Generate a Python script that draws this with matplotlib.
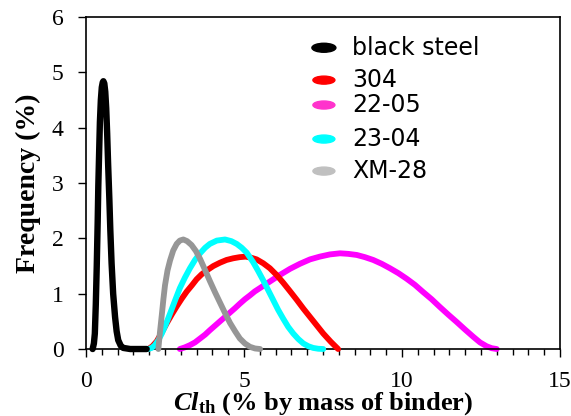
"""
Distribution of chloride threshold values for the different reinforcing steels.
"""
import matplotlib
matplotlib.use('Agg')
import matplotlib.pyplot as plt
from matplotlib.patches import Ellipse
from matplotlib.ticker import MultipleLocator

# values
black_x = [0.21, 0.25, 0.28, 0.31, 0.34, 0.37, 0.39, 0.42, 0.44, 0.47, 0.50, 0.53,
           0.55, 0.58, 0.61, 0.64, 0.67, 0.70, 0.74, 0.77, 0.81, 0.86, 0.92, 0.97,
           1.02, 1.10, 1.18, 1.40, 1.92]
black_y = [0.0, 0.10, 0.28, 0.80, 1.49, 2.30, 2.95, 3.65, 4.10, 4.50, 4.73, 4.82,
           4.84, 4.80, 4.65, 4.35, 3.90, 3.35, 2.70, 2.15, 1.55, 1.00, 0.58, 0.32,
           0.16, 0.06, 0.02, 0.0, 0.0]

red_x = [1.97, 2.10, 2.24, 2.40, 2.55, 2.71, 2.87, 3.03, 3.19, 3.35, 3.50, 3.66,
         3.82, 4.03, 4.24, 4.45, 4.66, 4.86, 5.05, 5.23, 5.40, 5.61, 5.82, 6.03,
         6.24, 6.45, 6.67, 6.88, 7.09, 7.30, 7.51, 7.75, 7.98]
red_y = [0.0, 0.05, 0.14, 0.30, 0.46, 0.62, 0.77, 0.91, 1.04, 1.15, 1.26, 1.35,
         1.42, 1.50, 1.56, 1.61, 1.64, 1.66, 1.67, 1.65, 1.62, 1.55, 1.46, 1.34,
         1.20, 1.05, 0.89, 0.73, 0.58, 0.43, 0.28, 0.13, 0.0]

magenta_x = [2.97, 3.13, 3.29, 3.45, 3.61, 3.77, 3.92, 4.08, 4.24, 4.40, 4.56, 4.72,
             4.87, 5.03, 5.19, 5.34, 5.50, 5.66, 5.82, 6.14, 6.46, 6.77, 7.09, 7.40,
             7.72, 8.04, 8.30, 8.57, 8.83, 9.09, 9.36, 9.62, 9.89, 10.15, 10.41,
             10.67, 10.94, 11.20, 11.47, 11.73, 12.00, 12.26, 12.47, 12.68, 12.84,
             13.0]
magenta_y = [0.0, 0.03, 0.07, 0.12, 0.19, 0.26, 0.34, 0.42, 0.50, 0.58, 0.66, 0.74,
             0.82, 0.90, 0.97, 1.04, 1.10, 1.16, 1.22, 1.34, 1.45, 1.54, 1.62, 1.67,
             1.71, 1.73, 1.72, 1.70, 1.66, 1.61, 1.54, 1.46, 1.37, 1.27, 1.16,
             1.03, 0.90, 0.76, 0.62, 0.49, 0.35, 0.22, 0.12, 0.05, 0.015,
             0.0]

cyan_x = [1.97, 2.08, 2.18, 2.29, 2.40, 2.53, 2.66, 2.82, 2.97, 3.13, 3.29, 3.45,
          3.61, 3.77, 3.92, 4.14, 4.40, 4.60, 4.77, 4.93, 5.09, 5.29, 5.45, 5.61,
          5.77, 5.93, 6.08, 6.24, 6.40, 6.56, 6.72, 6.88, 7.04, 7.19, 7.35, 7.51]
cyan_y = [0.0, 0.02, 0.07, 0.16, 0.28, 0.45, 0.64, 0.88, 1.10, 1.29, 1.46, 1.61,
          1.73, 1.83, 1.90, 1.96, 1.98, 1.95, 1.90, 1.83, 1.74, 1.57, 1.41, 1.24,
          1.06, 0.88, 0.71, 0.55, 0.40, 0.28, 0.18, 0.10, 0.05, 0.02, 0.005, 0.0]

gray_x = [2.29, 2.34, 2.40, 2.45, 2.50, 2.58, 2.66, 2.76, 2.87, 2.97, 3.08, 3.20,
          3.34, 3.48, 3.61, 3.76, 3.92, 4.08, 4.24, 4.40, 4.56, 4.72, 4.87, 5.03,
          5.19, 5.35, 5.51]
gray_y = [0.0, 0.30, 0.62, 0.90, 1.15, 1.42, 1.60, 1.78, 1.90, 1.96, 1.98, 1.95,
          1.88, 1.77, 1.63, 1.44, 1.23, 1.03, 0.84, 0.65, 0.47, 0.32, 0.19, 0.10,
          0.04, 0.01, 0.0]

labels = ['black steel', '304', '22-05', '23-04', 'XM-28']
line_colors = ['#000000', '#ff0000', '#ff00ff', '#00ffff', '#969696']
key_colors = ['#000000', '#ff0000', '#ff33cc', '#00ffff', '#c0c0c0']

xticks = [0, 5, 10, 15]
yticks = [0, 1, 2, 3, 4, 5, 6]

plt.rcParams['mathtext.fontset'] = 'custom'
plt.rcParams['mathtext.rm'] = 'Liberation Serif'
plt.rcParams['mathtext.it'] = 'Liberation Serif:italic'
plt.rcParams['mathtext.bf'] = 'Liberation Serif:bold'
plt.rcParams['mathtext.bfit'] = 'Liberation Serif:italic:bold'

fig = plt.figure(figsize=(5.71, 4.16), dpi=100)
ax = fig.add_axes([0.1506, 0.161, 0.830, 0.798])

series = [(black_x, black_y), (red_x, red_y), (magenta_x, magenta_y),
          (cyan_x, cyan_y), (gray_x, gray_y)]
zorders = [6, 3, 2, 4, 5]
for (xs, ys), c, z in zip(series, line_colors, zorders):
    lw = 4.6 if c == '#000000' else 4.2
    ax.plot(xs, ys, color=c, lw=lw, solid_capstyle='round',
            solid_joinstyle='round', zorder=z, clip_on=False)

# hand-made key, like the original
key_y = [0.9075, 0.810, 0.735, 0.6325, 0.536]
for i, (lab, c, ky) in enumerate(zip(labels, key_colors, key_y)):
    w, h = (24 / 474, 9 / 332) if i == 0 else (22 / 474, 8 / 332)
    ax.add_patch(Ellipse((0.502, ky), w, h, transform=ax.transAxes,
                         color=c, zorder=7))
    ax.text(0.561, ky, lab, transform=ax.transAxes, fontsize=17,
            family='DejaVu Sans', va='center', ha='left')

ax.set_xlim(0, 15)
ax.set_ylim(0, 6)
ax.set_xticks(xticks)
ax.set_yticks(yticks)
ax.xaxis.set_minor_locator(MultipleLocator(0.5))
ax.tick_params(axis='both', which='major', direction='out', length=6,
               width=1, labelsize=17, pad=10)
ax.tick_params(axis='x', which='minor', direction='out', length=4, width=1)
for lab in ax.get_xticklabels() + ax.get_yticklabels():
    lab.set_family('Liberation Serif')
for s in ax.spines.values():
    s.set_linewidth(1.2)

ax.set_xlabel(r'$\mathbfit{Cl}_{\mathbf{th}}$ (% by mass of binder)',
              family='Liberation Serif', fontweight='bold', fontsize=19)
ax.xaxis.set_label_coords(0.5, -0.125)
ax.set_ylabel('Frequency (%)', family='Liberation Serif', fontweight='bold',
              fontsize=20)
ax.yaxis.set_label_coords(-0.095, 0.5)

plt.savefig('out.png', dpi=100)
